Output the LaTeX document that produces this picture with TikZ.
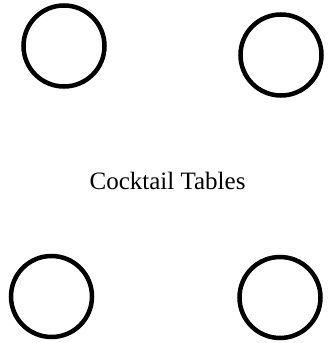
\documentclass[tikz,border=0pt]{standalone}
\usepackage{fontspec}
\setmainfont{Liberation Serif}
\usepackage{tikz}
\usetikzlibrary{positioning}
\tikzset{
  ctable/.style={draw=black,circle,line width=4.5pt,minimum size=81pt,inner sep=0pt},
  clabel/.style={font=\fontsize{25}{30}\selectfont,inner sep=0pt,anchor=base}
}

\begin{document}
\begin{tikzpicture}[x=1pt,y=1pt]
  \useasboundingbox (0,0) rectangle (328,343);
  \node[ctable] (tableNW) at (64,297) {};
  \node[ctable] (tableNE) at (281,288) {};
  \node[ctable] (tableSW) at (51.5,46.5) {};
  \node[ctable] (tableSE) at (280,45.5) {};
  \node[clabel] (caption) at (167.5,153) {Cocktail Tables};
\end{tikzpicture}
\end{document}
